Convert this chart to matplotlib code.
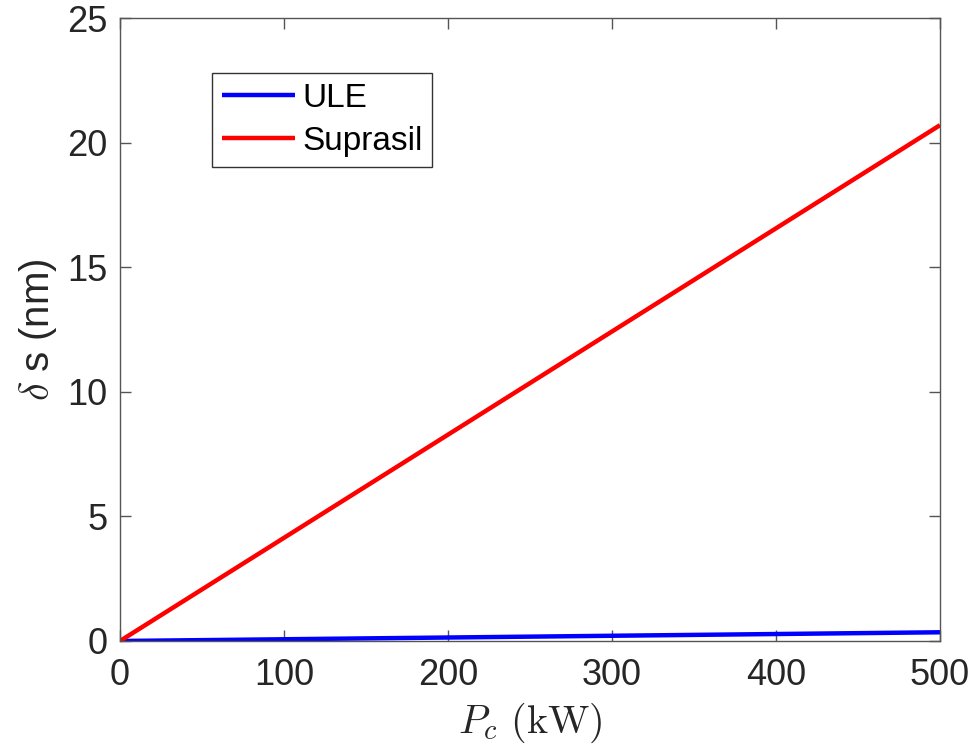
import numpy as np
import matplotlib
matplotlib.use("Agg")
import matplotlib.pyplot as plt

plt.rcParams['font.family'] = ['Liberation Sans', 'DejaVu Sans']
plt.rcParams['mathtext.fontset'] = 'cm'

# Cavity power (kW) and mirror surface deformation (nm)
power_kw = [0, 500]
ule_nm = [0.0, 0.35]
suprasil_nm = [0.0, 20.7]

x_ticks = [0, 100, 200, 300, 400, 500]
y_ticks = [0, 5, 10, 15, 20, 25]

fig = plt.figure(figsize=(9.76, 7.48), dpi=100)
ax = fig.add_axes([120/976, 1 - 641/748, (940-120)/976, (641-18)/748])

ax.plot(power_kw, ule_nm, color='#0000ff', lw=3.2, label='ULE', solid_capstyle='butt')
ax.plot(power_kw, suprasil_nm, color='#ff0000', lw=3.2, label='Suprasil', solid_capstyle='butt')

ax.set_xlim(0, 500)
ax.set_ylim(0, 25)
ax.set_xticks(x_ticks)
ax.set_yticks(y_ticks)

text_color = '#262626'
for s in ax.spines.values():
    s.set_color('#555555')
    s.set_linewidth(1.0)
ax.tick_params(direction='in', length=8, width=1.0, color='#555555',
               top=True, right=True, labelsize=26, labelcolor=text_color)
ax.tick_params(axis='x', pad=12)
ax.tick_params(axis='y', pad=9)

ax.set_xlabel(r'$P_c\ (\mathrm{kW})$', fontsize=29, color=text_color, labelpad=6)
ax.set_ylabel(r'$\delta$ s (nm)', fontsize=29, color=text_color, labelpad=6)

leg = ax.legend(loc='upper left', bbox_to_anchor=((212-120)/820, (641-73)/623),
                fontsize=24, frameon=True, fancybox=False, framealpha=1,
                edgecolor='#333333', handlelength=2.2, handletextpad=0.2,
                borderpad=0.3, labelspacing=0.35, borderaxespad=0)
leg.get_frame().set_linewidth(1.0)
for t in leg.get_texts():
    t.set_color('black')

fig.savefig('out.png', dpi=100)
